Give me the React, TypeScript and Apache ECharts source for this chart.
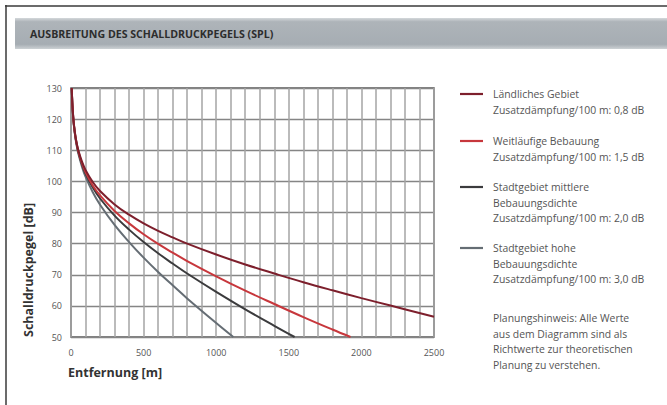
import React, { useEffect, useRef } from "react";
import * as echarts from "echarts";

const title = "AUSBREITUNG DES SCHALLDRUCKPEGELS (SPL)";
const yAxisName = "Schalldruckpegel [dB]";
const xAxisName = "Entfernung [m]";

const distances = [5, 7, 10, 15, 20, 30, 40, 50, 75, 100, 150, 200, 300, 400, 500, 600, 700, 800, 1000, 1200, 1400, 1600, 1800, 2000, 2200, 2500];

const ruralValues = [130, 127.5, 124.4, 120.9, 118.3, 114.7, 112.1, 110.1, 106.4, 103.7, 99.8, 96.9, 92.6, 89.3, 86.5, 84.1, 82.0, 80.0, 76.5, 73.3, 70.4, 67.6, 65.0, 62.5, 60.1, 56.5];
const wideValues = [130, 127.5, 124.4, 120.8, 118.2, 114.5, 111.9, 109.8, 105.9, 103.0, 98.7, 95.5, 90.5, 86.5, 83.0, 79.9, 77.1, 74.4, 69.5, 64.9, 60.6, 56.4, 52.4, 50.0];
const wideEndDistance = 1925;
const mediumValues = [130, 127.5, 124.3, 120.7, 118.1, 114.4, 111.7, 109.5, 105.5, 102.5, 98.0, 94.5, 89.0, 84.5, 80.5, 76.9, 73.6, 70.4, 64.5, 58.9, 53.6, 50.0];
const mediumEndDistance = 1540;
const denseValues = [130, 127.4, 124.2, 120.5, 117.9, 114.1, 111.3, 109.0, 104.8, 101.5, 96.5, 92.5, 86.0, 80.5, 75.5, 70.9, 66.6, 62.4, 54.5, 50.0];
const denseEndDistance = 1118;

const seriesNames = ["Ländliches Gebiet", "Weitläufige Bebauung", "Stadtgebiet mittlere Bebauungsdichte", "Stadtgebiet hohe Bebauungsdichte"];
const legendLines = [
  ["Ländliches Gebiet", "Zusatzdämpfung/100 m: 0,8 dB"],
  ["Weitläufige Bebauung", "Zusatzdämpfung/100 m: 1,5 dB"],
  ["Stadtgebiet mittlere", "Bebauungsdichte", "Zusatzdämpfung/100 m: 2,0 dB"],
  ["Stadtgebiet hohe", "Bebauungsdichte", "Zusatzdämpfung/100 m: 3,0 dB"],
];
const noteLines = ["Planungshinweis: Alle Werte", "aus dem Diagramm sind als", "Richtwerte zur theoretischen", "Planung zu verstehen."];

const colors = ["#7d1f2c", "#c7373c", "#3b3b3d", "#656d74"];

function pairs(values: number[], endDistance?: number): number[][] {
  return values.map((v, i) => {
    const d = endDistance !== undefined && i === values.length - 1 ? endDistance : distances[i];
    return [d, v];
  });
}

export default function App() {
  const ref = useRef<HTMLDivElement>(null);
  useEffect(() => {
    if (!ref.current) return;
    const chart = echarts.init(ref.current, undefined, { renderer: "svg" });
    const font = "'Open Sans', 'Noto Sans', sans-serif";
    const seriesData = [
      pairs(ruralValues),
      pairs(wideValues, wideEndDistance),
      pairs(mediumValues, mediumEndDistance),
      pairs(denseValues, denseEndDistance),
    ];
    const legendY = [94, 141, 187, 248];
    const lh = 15.5;
    const graphics: any[] = [
      { type: "line", shape: { x1: 5, y1: 6, x2: 667, y2: 6 }, style: { stroke: "#3a3a3a", lineWidth: 1.5 }, silent: true },
      { type: "line", shape: { x1: 6, y1: 5, x2: 6, y2: 405 }, style: { stroke: "#3a3a3a", lineWidth: 1.5 }, silent: true },
      {
        type: "rect",
        shape: { x: 15, y: 18, width: 652, height: 31 },
        style: {
          fill: new echarts.graphic.LinearGradient(0, 0, 0, 1, [
            { offset: 0, color: "#d4d8db" },
            { offset: 0.12, color: "#aeb4b9" },
            { offset: 0.85, color: "#a6adb3" },
            { offset: 1, color: "#ccd1d4" },
          ]),
        },
        silent: true,
      },
      {
        type: "text",
        x: 30,
        y: 34,
        style: { text: title, font: `bold 10.6px ${font}`, fill: "#2d2d2d", verticalAlign: "middle" },
      },
      {
        type: "text",
        x: 28,
        y: 337,
        rotation: Math.PI / 2,
        style: { text: yAxisName, font: `bold 12.5px ${font}`, fill: "#333", verticalAlign: "middle", align: "left" },
      },
      {
        type: "text",
        x: 68,
        y: 372,
        style: { text: xAxisName, font: `bold 12.5px ${font}`, fill: "#333", verticalAlign: "middle" },
      },
    ];
    legendLines.forEach((lines, i) => {
      graphics.push({
        type: "line",
        shape: { x1: 460, y1: legendY[i], x2: 483, y2: legendY[i] },
        style: { stroke: colors[i], lineWidth: 2.2 },
      });
      graphics.push({
        type: "text",
        x: 493,
        y: legendY[i] - lh / 2,
        style: { text: lines.join("\n"), font: `10.4px ${font}`, fill: "#555", lineHeight: lh, verticalAlign: "top" },
      });
    });
    graphics.push({
      type: "text",
      x: 493,
      y: 318 - lh / 2,
      style: { text: noteLines.join("\n"), font: `10.4px ${font}`, fill: "#555", lineHeight: lh, verticalAlign: "top" },
    });

    chart.setOption({
      animation: false,
      backgroundColor: "#ffffff",
      grid: { left: 71, right: 233, top: 88, bottom: 68, show: true, borderColor: "#5a5a5a", borderWidth: 1.5, containLabel: false },
      xAxis: {
        type: "value",
        min: 0,
        max: 2500,
        interval: 100,
        axisLine: { show: false },
        axisTick: { show: false },
        axisLabel: {
          color: "#555",
          fontFamily: font,
          fontSize: 9,
          margin: 11,
          formatter: (v: number) => (v % 500 === 0 ? String(v) : ""),
        },
        splitLine: { show: true, lineStyle: { color: "#a4a4a4", width: 1.5 } },
      },
      yAxis: {
        type: "value",
        min: 50,
        max: 130,
        interval: 10,
        axisLine: { show: false },
        axisTick: { show: false },
        axisLabel: { color: "#555", fontFamily: font, fontSize: 9, margin: 9 },
        splitLine: { show: true, lineStyle: { color: "#858585", width: 1.3 } },
      },
      series: seriesData.map((d, i) => ({
        name: seriesNames[i],
        type: "line",
        data: d,
        smooth: 0.4,
        showSymbol: false,
        clip: true,
        lineStyle: { color: colors[i], width: 2 },
        itemStyle: { color: colors[i] },
        z: 10 - i,
      })),
      graphic: graphics,
    });
    return () => chart.dispose();
  }, []);
  return <div ref={ref} style={{ position: "absolute", left: 0, top: 0, width: 667, height: 405 }} />;
}
